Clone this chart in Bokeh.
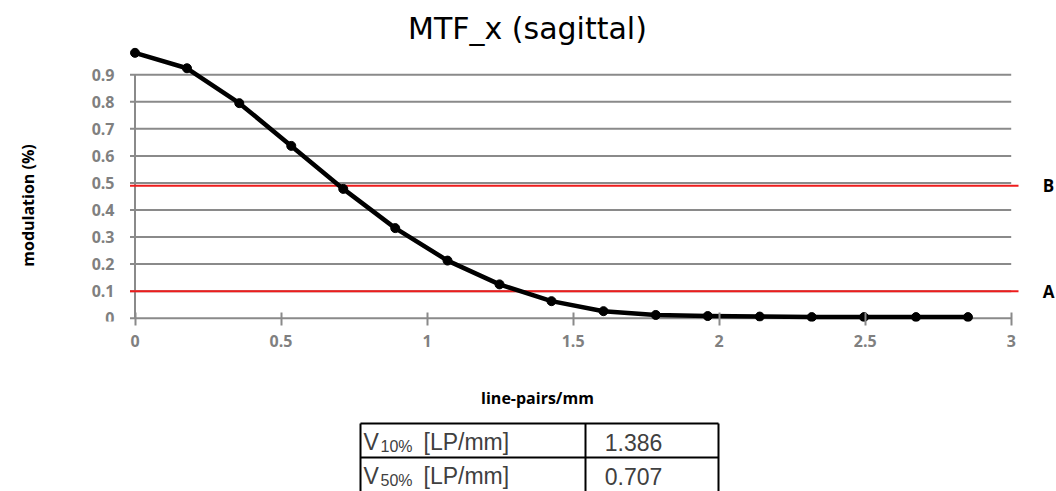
import math
from bokeh.plotting import figure
from bokeh.models import Range1d, FixedTicker
from bokeh.layouts import column
from bokeh.core.properties import value
from bokeh.embed import file_html
from bokeh.resources import INLINE

# ---------------- data ----------------
freq = [0.0, 0.178, 0.357, 0.535, 0.713, 0.891, 1.070, 1.248, 1.426,
        1.604, 1.783, 1.961, 2.139, 2.317, 2.496, 2.674, 2.852]
modulation = [0.981, 0.924, 0.795, 0.637, 0.478, 0.333, 0.213, 0.125, 0.063,
              0.026, 0.012, 0.008, 0.006, 0.004, 0.004, 0.004, 0.004]
x_ticks = [0, 0.5, 1, 1.5, 2, 2.5, 3]
x_tick_labels = ["0", "0.5", "1", "1.5", "2", "2.5", "3"]
y_ticks = [0, 0.1, 0.2, 0.3, 0.4, 0.5, 0.6, 0.7, 0.8, 0.9]
y_tick_labels = ["0", "0.1", "0.2", "0.3", "0.4", "0.5", "0.6", "0.7", "0.8", "0.9"]
threshold_levels = [0.49, 0.1]
threshold_names = ["B", "A"]
table_subscripts = ["10%", "50%"]
table_values = ["1.386", "0.707"]

TITLE = "MTF_x (sagittal)"
XLABEL = "line-pairs/mm"
YLABEL = "modulation (%)"

# ---------------- styling / geometry ----------------
GRAY = "#8a8a8a"
LABEL_GRAY = "#808080"
RED = "#ee1c1c"
FONT = "Open Sans"

W = 1056
H1 = 380
H2 = 111
FRAME_BOTTOM = 321

# pixel geometry of the plot area: x=0 at px 134.5, y=0 at px 317.7
PX0, PXU = 134.5, 292.07
PY0, PYU = 317.7, 270.5


def sx(px):
    return (px - PX0) / PXU


def sy(py):
    return (PY0 - py) / PYU


X0, X1 = sx(0), sx(W)
Y0, Y1 = sy(FRAME_BOTTOM), sy(0)

p = figure(width=W, height=H1, x_range=Range1d(X0, X1), y_range=Range1d(Y0, Y1),
           toolbar_location=None, output_backend="svg", y_axis_location=None,
           min_border_left=0, min_border_right=0, min_border_top=0,
           min_border_bottom=H1 - FRAME_BOTTOM)
p.outline_line_color = None
p.xgrid.visible = False
p.ygrid.visible = False

xa = p.xaxis[0]
xa.ticker = FixedTicker(ticks=x_ticks)
xa.bounds = (x_ticks[0], x_ticks[-1])
xa.major_label_overrides = {t: l for t, l in zip(x_ticks, x_tick_labels)}
xa.axis_line_color = None
xa.major_tick_in = 9
xa.major_tick_out = 4
xa.major_tick_line_color = GRAY
xa.major_tick_line_width = 2
xa.minor_tick_line_color = None
xa.major_label_standoff = 9
xa.major_label_text_font = FONT
xa.major_label_text_font_style = "bold"
xa.major_label_text_font_size = "16px"
xa.major_label_text_color = LABEL_GRAY

# y tick labels (drawn through the data scale)
p.text(x=[sx(114)] * len(y_ticks), y=y_ticks, text=y_tick_labels,
       text_font=value(FONT), text_font_style="bold", text_font_size="16px",
       text_color=LABEL_GRAY, text_align="right", text_baseline="middle")
# y axis label
p.text(x=[sx(27.5)], y=[sy(205)], text=[YLABEL], angle=math.pi / 2,
       text_font=value(FONT), text_font_style="bold", text_font_size="16px",
       text_color="black", text_align="center", text_baseline="middle")

# gridlines (with the small outward tick on the left)
grid_y = y_ticks[1:]
p.segment(x0=[sx(129.5)] * len(grid_y), y0=grid_y, x1=[x_ticks[-1]] * len(grid_y),
          y1=grid_y, line_color=GRAY, line_width=2)
# x-axis line
p.segment(x0=[sx(129.5)], y0=[y_ticks[0]], x1=[x_ticks[-1]], y1=[y_ticks[0]],
          line_color=GRAY, line_width=2)
# y-axis line
p.segment(x0=[x_ticks[0]], y0=[y_ticks[0]], x1=[x_ticks[0]], y1=[y_ticks[-1]],
          line_color=GRAY, line_width=2)

# threshold lines
p.segment(x0=[sx(129.5)] * 2, y0=threshold_levels, x1=[sx(1018)] * 2,
          y1=threshold_levels, line_color=RED, line_width=2)
p.text(x=[sx(1048)] * 2, y=threshold_levels, text=threshold_names,
       text_font=value(FONT), text_font_style="bold", text_font_size="17px",
       text_color="black", text_align="center", text_baseline="middle")

# curve
p.line(freq, modulation, line_color="black", line_width=4.5, line_join="round")
p.scatter(freq, modulation, size=9, fill_color="black", line_color="black")

# title
p.text(x=[sx(527)], y=[sy(28)], text=[TITLE], text_font=value("DejaVu Sans"),
       text_font_size="30px", text_color="black", text_align="center",
       text_baseline="middle")

# ---------------- lower panel: x label and table ----------------
TOP2 = H1
p2 = figure(width=W, height=H2, x_range=Range1d(0, W),
            y_range=Range1d(TOP2 + H2, TOP2),
            toolbar_location=None, output_backend="svg",
            x_axis_type=None, y_axis_type=None,
            min_border_left=0, min_border_right=0, min_border_top=0,
            min_border_bottom=0)
p2.outline_line_color = None
p2.xgrid.visible = False
p2.ygrid.visible = False

p2.text(x=[537], y=[397], text=[XLABEL], text_font=value(FONT),
        text_font_style="bold", text_font_size="16px", text_color="black",
        text_align="center", text_baseline="middle")

T_LEFT, T_MID, T_RIGHT = 360, 585, 718
T_TOP, ROW_H = 423, 34
n = len(table_values)
rows_y = [T_TOP + i * ROW_H for i in range(n)]
p2.segment(x0=[T_LEFT] * n, y0=rows_y, x1=[T_RIGHT] * n, y1=rows_y,
           line_color="black", line_width=2)
p2.segment(x0=[T_LEFT, T_MID, T_RIGHT], y0=[T_TOP] * 3, x1=[T_LEFT, T_MID, T_RIGHT],
           y1=[TOP2 + H2 + 5] * 3, line_color="black", line_width=2)

TXT = "#404040"
mid = [y + ROW_H / 2 + 1.5 for y in rows_y]
p2.text(x=[363] * n, y=mid, text=["V"] * n, text_font=value("Liberation Sans"),
        text_font_size="23px", text_color=TXT, text_align="left",
        text_baseline="middle")
p2.text(x=[380] * n, y=[m + 4 for m in mid], text=table_subscripts,
        text_font=value("Liberation Sans"), text_font_size="16px", text_color=TXT,
        text_align="left", text_baseline="middle")
p2.text(x=[423] * n, y=mid, text=["[LP/mm]"] * n, text_font=value("Liberation Sans"),
        text_font_size="23px", text_color=TXT, text_align="left",
        text_baseline="middle")
p2.text(x=[633] * n, y=mid, text=table_values, text_font=value("Liberation Sans"),
        text_font_size="23px", text_color=TXT, text_align="center",
        text_baseline="middle")

layout = column(p, p2)
open("out.html", "w").write(file_html(layout, INLINE))
